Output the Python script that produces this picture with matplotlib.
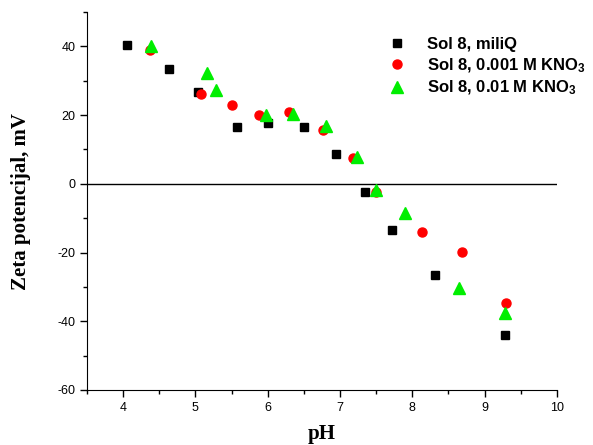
import matplotlib
matplotlib.use('Agg')
import matplotlib.pyplot as plt
from matplotlib.ticker import MultipleLocator

plt.rcParams['axes.unicode_minus'] = False
plt.rcParams['mathtext.fontset'] = 'custom'
plt.rcParams['mathtext.rm'] = 'Liberation Sans:bold'
plt.rcParams['mathtext.it'] = 'Liberation Sans:bold'
plt.rcParams['mathtext.bf'] = 'Liberation Sans:bold'

# Sol 8, miliQ
ph_miliq = [4.05, 4.63, 5.04, 5.58, 6.0, 6.5, 6.94, 7.34, 7.72, 8.32, 9.28]
zeta_miliq = [40.3, 33.5, 26.7, 16.4, 17.6, 16.5, 8.8, -2.4, -13.3, -26.5, -44.1]

# Sol 8, 0.001 M KNO3
ph_001 = [4.375, 5.08, 5.5, 5.88, 6.3, 6.77, 7.18, 7.5, 8.13, 8.69, 9.29]
zeta_001 = [39.0, 26.0, 23.0, 20.0, 20.8, 15.6, 7.6, -2.5, -13.9, -19.9, -34.7]

# Sol 8, 0.01 M KNO3
ph_01 = [4.38, 5.16, 5.28, 5.97, 6.35, 6.8, 7.23, 7.5, 7.9, 8.65, 9.28]
zeta_01 = [40.0, 32.3, 27.4, 19.9, 20.3, 16.9, 7.7, -1.9, -8.6, -30.4, -37.7]

fig = plt.figure(figsize=(5.93, 4.45), dpi=100)
ax = fig.add_axes([0.1467, 0.1236, 0.7925, 0.8494])

ax.axhline(0, color='black', lw=1.0, zorder=1)
ax.plot(ph_miliq, zeta_miliq, 's', color='black', ms=5.5, label='Sol 8, miliQ', zorder=3)
ax.plot(ph_001, zeta_001, 'o', color='red', ms=6.5, label='Sol 8, 0.001 M KNO$_3$', zorder=3)
ax.plot(ph_01, zeta_01, '^', color='#00ee00', ms=8, label='Sol 8, 0.01 M KNO$_3$', zorder=4)

ax.set_xlim(3.5, 10)
ax.set_ylim(-60, 50)
ax.xaxis.set_major_locator(MultipleLocator(1))
ax.xaxis.set_minor_locator(MultipleLocator(0.5))
ax.yaxis.set_major_locator(MultipleLocator(20))
ax.yaxis.set_minor_locator(MultipleLocator(10))
ax.set_yticks([-60, -40, -20, 0, 20, 40])

ax.spines['top'].set_visible(False)
ax.spines['right'].set_visible(False)
ax.tick_params(which='major', direction='out', length=5, width=1, labelsize=9)
ax.tick_params(which='minor', direction='out', length=3, width=1)
for lab in ax.get_xticklabels() + ax.get_yticklabels():
    lab.set_fontfamily('Liberation Sans')

ax.set_xlabel('pH', fontfamily='Liberation Serif', fontweight='bold', fontsize=15)
ax.set_ylabel('Zeta potencijal, mV', fontfamily='Liberation Serif', fontweight='bold', fontsize=15)
ax.xaxis.set_label_coords(0.5, -0.09)
ax.yaxis.set_label_coords(-0.12, 0.5)

leg = ax.legend(loc='upper left', bbox_to_anchor=(0.6275, 0.95), bbox_transform=fig.transFigure,
                frameon=False, prop={'family': 'Liberation Sans', 'weight': 'bold', 'size': 12},
                handletextpad=1.2, labelspacing=0.25, handlelength=1.2)

fig.savefig('out.png', dpi=100)
